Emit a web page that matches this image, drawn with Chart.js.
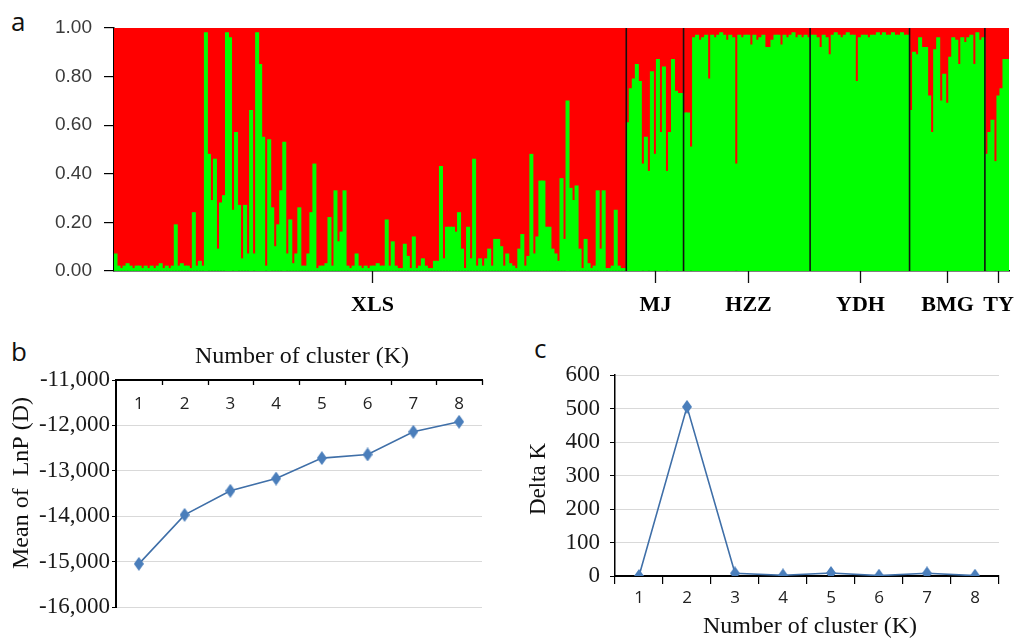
<!DOCTYPE html>
<html>
<head>
<meta charset="utf-8">
<script src="https://cdn.jsdelivr.net/npm/chart.js@4.4.1/dist/chart.umd.min.js"></script>
<style>
  html, body { margin: 0; padding: 0; background: #fff; }
  body { width: 1019px; height: 639px; position: relative; overflow: hidden; }
  canvas { position: absolute; }
  .tag { position: absolute; font-family: 'Open Sans', sans-serif; font-size: 26px; line-height: 26px; color: #111; }
</style>
</head>
<body>
<div class="tag" style="left:11px;top:8px">a</div>
<div class="tag" style="left:11px;top:338px">b</div>
<div class="tag" style="left:534px;top:335px">c</div>
<canvas id="structure" width="1019" height="330" style="left:0;top:0"></canvas>
<canvas id="lnp" width="500" height="309" style="left:0;top:330px"></canvas>
<canvas id="deltak" width="509" height="309" style="left:510px;top:330px"></canvas>
<script>
// panel a: membership in the green cluster, one value per individual
const groups = ['XLS', 'MJ', 'HZZ', 'YDH', 'BMG', 'TY'];
const xls = [
  0.07, 0.02, 0.01, 0.02, 0.03, 0.02, 0.01, 0.02, 0.02, 0.01, 0.02, 0.01, 0.02, 0.01, 0.02, 0.03, 0.01, 0.02, 0.01, 0.02,
  0.19, 0.02, 0.03, 0.02, 0.02, 0.01, 0.24, 0.02, 0.04, 0.02,
  0.98, 0.48, 0.29, 0.46, 0.09, 0.28, 0.31, 0.98, 0.96, 0.25,
  0.57, 0.27, 0.05, 0.27, 0.07, 0.66, 0.07, 0.98, 0.85, 0.55,
  0.02, 0.54, 0.26, 0.10, 0.19, 0.33, 0.53, 0.07, 0.21, 0.03,
  0.07, 0.26, 0.02, 0.02, 0.07, 0.24, 0.44, 0.01, 0.02, 0.02,
  0.03, 0.22, 0.02, 0.33, 0.12, 0.16, 0.33, 0.02, 0.01, 0.02,
  0.07, 0.02, 0.01, 0.02, 0.01, 0.02, 0.02, 0.03, 0.02, 0.02,
  0.21, 0.02, 0.12, 0.02, 0.01, 0.01, 0.11, 0.06, 0.01, 0.14,
  0.01, 0.02, 0.05, 0.02, 0.01, 0.01, 0.04, 0.04, 0.43, 0.05,
  0.18, 0.18, 0.18, 0.16, 0.24, 0.09, 0.01, 0.18, 0.05, 0.46,
  0.02, 0.05, 0.02, 0.05, 0.09, 0.02, 0.13, 0.13, 0.10, 0.02,
  0.07, 0.03, 0.02, 0.01, 0.09, 0.15, 0.02, 0.06, 0.48, 0.07,
  0.14, 0.37, 0.37, 0.18, 0.18, 0.09, 0.07, 0.04, 0.38, 0.13,
  0.70, 0.34, 0.29, 0.35, 0.09, 0.01, 0.13, 0.03, 0.01, 0.02,
  0.33, 0.09, 0.33, 0.01, 0.01, 0.02, 0.25, 0.02, 0.01, 0.01
];
const mj = [0.61, 0.75, 0.79, 0.85, 0.78, 0.44, 0.55, 0.41, 0.82, 0.48, 0.87, 0.57, 0.84, 0.41, 0.57, 0.87, 0.74, 0.73, 0.73];
const hzz = [
  0.65, 0.65, 0.51, 0.96, 0.97, 0.95, 0.96, 0.97, 0.79, 0.97, 0.96, 0.97, 0.98, 0.97, 0.95, 0.97, 0.96, 0.44, 0.97, 0.96, 0.97,
  0.97, 0.93, 0.97, 0.95, 0.96, 0.97, 0.92, 0.92, 0.95, 0.97, 0.97, 0.93, 0.97, 0.96, 0.97, 0.98, 0.96, 0.97, 0.96, 0.97, 0.96
];
const ydh = [
  0.97, 0.97, 0.96, 0.92, 0.97, 0.96, 0.89, 0.97, 0.98, 0.97, 0.96, 0.97, 0.98, 0.97, 0.97, 0.78, 0.96,
  0.97, 0.97, 0.96, 0.97, 0.97, 0.98, 0.97, 0.98, 0.97, 0.97, 0.98, 0.97, 0.97, 0.98, 0.97, 0.97
];
const bmg = [0.66, 0.90, 0.89, 0.96, 0.92, 0.92, 0.72, 0.57, 0.91, 0.96, 0.70, 0.81, 0.69, 0.88, 0.96, 0.95, 0.85, 0.96, 0.94, 0.96, 0.97, 0.85, 0.98, 0.95, 0.96];
const ty = [0.48, 0.57, 0.62, 0.45, 0.72, 0.75, 0.87, 0.87];
const yTicksA = [0, 0.2, 0.4, 0.6, 0.8, 1.0];

// panels b and c
const kLabels = ['1', '2', '3', '4', '5', '6', '7', '8'];
const meanLnP = [-15050, -13970, -13440, -13170, -12720, -12640, -12140, -11920];
const deltaK = [0, 505, 8, 2, 9, 1, 8, 1];

const RED = '#ff0000';
const GREEN = '#00ff00';
const LINE = '#3f6fa8';
const MARK = '#4a7ebb';
const GRID = '#d9d9d9';

const populations = [xls, mj, hzz, ydh, bmg, ty];
const green = [].concat(...populations);
const red = green.map(v => +(1 - v).toFixed(2));
const indLabels = green.map((_, i) => String(i + 1));
const starts = [];
let acc = 0;
populations.forEach(p => { starts.push(acc); acc += p.length; });
const centerIdx = {};
groups.forEach((g, k) => { centerIdx[starts[k] + Math.floor(populations[k].length / 2)] = g; });

Chart.defaults.animation = false;
Chart.defaults.plugins.legend.display = false;
Chart.defaults.plugins.tooltip.enabled = false;

// group borders inside the plot, a tick and the name under each group
const separators = {
  id: 'separators',
  afterDatasetsDraw(chart) {
    const x = chart.scales.x, a = chart.chartArea, ctx = chart.ctx;
    ctx.save();
    ctx.strokeStyle = '#111';
    ctx.lineWidth = 1.6;
    starts.slice(1).forEach(s => {
      const px = (x.getPixelForValue(s - 1) + x.getPixelForValue(s)) / 2;
      ctx.beginPath();
      ctx.moveTo(px, a.top);
      ctx.lineTo(px, a.bottom);
      ctx.stroke();
    });
    ctx.lineWidth = 1.3;
    ctx.fillStyle = '#000';
    ctx.font = 'bold 22px "Liberation Serif"';
    ctx.textAlign = 'center';
    ctx.textBaseline = 'middle';
    Object.keys(centerIdx).forEach(i => {
      const px = Math.round(x.getPixelForValue(+i)) + 0.5;
      ctx.beginPath();
      ctx.moveTo(px, a.bottom);
      ctx.lineTo(px, a.bottom + 12);
      ctx.stroke();
      ctx.fillText(centerIdx[i], px, a.bottom + 34);
    });
    ctx.restore();
  }
};

// top category axis of panel b: short inward ticks and labels under the line
const innerTop = {
  id: 'innerTop',
  afterDraw(chart) {
    const x = chart.scales.x, a = chart.chartArea, ctx = chart.ctx;
    const n = chart.data.labels.length;
    ctx.save();
    ctx.strokeStyle = '#000';
    ctx.lineWidth = 1.3;
    for (let i = 1; i <= n; i++) {
      const px = Math.round(i < n ? (x.getPixelForValue(i - 1) + x.getPixelForValue(i)) / 2 : a.right) + 0.5;
      ctx.beginPath();
      ctx.moveTo(px, a.top);
      ctx.lineTo(px, a.top + 5);
      ctx.stroke();
    }
    ctx.fillStyle = '#222';
    ctx.font = '17px "Open Sans"';
    ctx.textAlign = 'center';
    ctx.textBaseline = 'middle';
    chart.data.labels.forEach((lab, i) => ctx.fillText(lab, x.getPixelForValue(i), a.top + 24));
    ctx.restore();
  }
};

const axisText = {
  id: 'axisText',
  afterDraw(chart, args, opts) {
    const ctx = chart.ctx;
    (opts.items || []).forEach(t => {
      ctx.save();
      ctx.font = t.font;
      ctx.fillStyle = '#111';
      ctx.textAlign = 'center';
      ctx.textBaseline = 'middle';
      ctx.translate(t.x, t.y);
      if (t.rotate) ctx.rotate(-Math.PI / 2);
      ctx.fillText(t.text, 0, 0);
      ctx.restore();
    });
  }
};

function diamond(w, h, color) {
  const c = document.createElement('canvas');
  c.width = w; c.height = h;
  const g = c.getContext('2d');
  g.fillStyle = color;
  g.beginPath();
  g.moveTo(w / 2, 0); g.lineTo(w, h / 2); g.lineTo(w / 2, h); g.lineTo(0, h / 2);
  g.closePath();
  g.fill();
  return c;
}
const marker = diamond(10, 14, MARK);

// a: structure bar plot
new Chart(document.getElementById('structure'), {
  type: 'bar',
  data: {
    labels: indLabels,
    datasets: [
      { data: green, backgroundColor: GREEN, borderWidth: 0, inflateAmount: 0.5 },
      { data: red, backgroundColor: RED, borderWidth: 0, inflateAmount: 0.5 }
    ]
  },
  options: {
    responsive: false,
    layout: { padding: { top: 28, right: 10, bottom: 0, left: 0 } },
    datasets: { bar: { barPercentage: 1, categoryPercentage: 1 } },
    scales: {
      x: {
        stacked: true,
        offset: true,
        grid: { display: false },
        border: { color: '#000', width: 1.5 },
        ticks: { display: false },
        afterFit: s => { s.height = 59; }
      },
      y: {
        stacked: true,
        min: 0,
        max: 1,
        afterBuildTicks: s => { s.ticks = yTicksA.map(v => ({ value: v })); },
        ticks: {
          padding: 12, color: '#3a3a3a',
          font: { family: 'Liberation Sans', size: 19 },
          callback: v => v.toFixed(2)
        },
        grid: { drawOnChartArea: false, tickLength: 10, color: '#000', lineWidth: 1.2 },
        border: { color: '#000', width: 1.5 },
        afterFit: s => { s.width = 114; }
      }
    }
  },
  plugins: [separators]
});

// b: mean LnP by K
new Chart(document.getElementById('lnp'), {
  type: 'line',
  data: {
    labels: kLabels,
    datasets: [{ data: meanLnP, borderColor: LINE, borderWidth: 1.6, pointStyle: marker, pointRadius: 7, tension: 0 }]
  },
  options: {
    responsive: false,
    layout: { padding: { top: 50, right: 18, bottom: 32, left: 0 } },
    plugins: {
      axisText: {
        items: [
          { text: 'Number of cluster (K)', x: 302, y: 27, font: '24px "Liberation Serif"' },
          { text: 'Mean of  LnP (D)', x: 22, y: 153, rotate: true, font: '24px "Liberation Serif"' }
        ]
      }
    },
    scales: {
      x: {
        position: 'top',
        offset: true,
        grid: { display: false },
        border: { color: '#000', width: 2 },
        ticks: { display: false },
        afterFit: s => { s.height = 0; }
      },
      y: {
        min: -16000,
        max: -11000,
        ticks: {
          stepSize: 1000, padding: 2, color: '#1a1a1a',
          font: { family: 'Liberation Serif', size: 23 },
          callback: v => v.toLocaleString('en-US')
        },
        grid: { color: GRID, lineWidth: 1, tickColor: '#000', tickLength: 4 },
        border: { color: '#000', width: 2 },
        afterFit: s => { s.width = 116; }
      }
    }
  },
  plugins: [axisText, innerTop]
});

// c: delta K by K
new Chart(document.getElementById('deltak'), {
  type: 'line',
  data: {
    labels: kLabels,
    datasets: [{ data: deltaK, borderColor: LINE, borderWidth: 1.6, pointStyle: marker, pointRadius: 7, tension: 0 }]
  },
  options: {
    responsive: false,
    layout: { padding: { top: 45, right: 20, bottom: 0, left: 0 } },
    plugins: {
      axisText: {
        items: [
          { text: 'Number of cluster (K)', x: 300, y: 297, font: '24px "Liberation Serif"' },
          { text: 'Delta K', x: 29, y: 149, rotate: true, font: '23px "Liberation Serif"' }
        ]
      }
    },
    scales: {
      x: {
        offset: true,
        grid: { offset: true, drawOnChartArea: false, tickLength: 8, color: '#000', lineWidth: 1.2 },
        border: { color: '#000', width: 2 },
        ticks: { padding: 4, color: '#222', font: { family: 'Open Sans', size: 17 } },
        afterFit: s => { s.height = 63; }
      },
      y: {
        min: 0,
        max: 600,
        ticks: {
          stepSize: 100, padding: 10, color: '#1a1a1a',
          font: { family: 'Liberation Serif', size: 23 }
        },
        grid: { color: GRID, lineWidth: 1, tickColor: '#000', tickLength: 5 },
        border: { color: '#000', width: 1.5 },
        afterFit: s => { s.width = 105; }
      }
    }
  },
  plugins: [axisText]
});
</script>
</body>
</html>
